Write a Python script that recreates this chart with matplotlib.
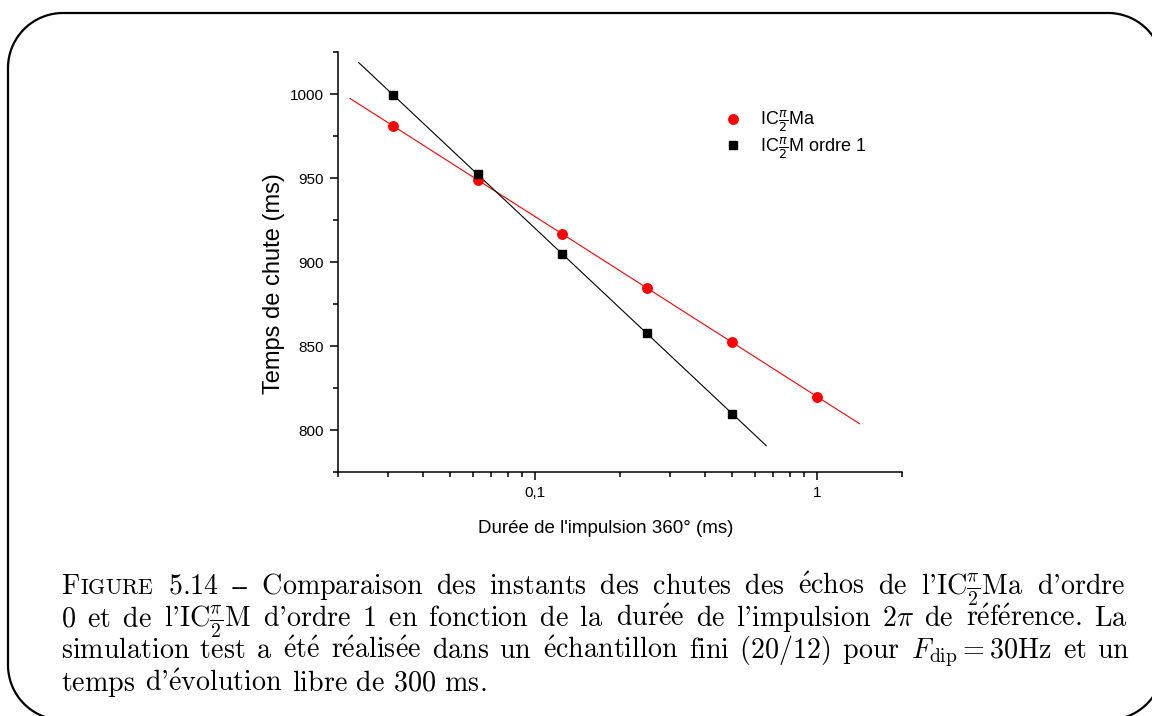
import matplotlib
matplotlib.use("Agg")
import matplotlib.pyplot as plt
import matplotlib.ticker as mticker
import matplotlib.transforms as mtransforms
from matplotlib.patches import Polygon
import numpy as np

# === DONNEES ===
duree_ma = np.array([0.03125, 0.0625, 0.125, 0.25, 0.5, 1.0])
chute_ma = np.array([981.0, 949.0, 916.5, 884.5, 852.5, 819.5])
duree_m1 = np.array([0.03125, 0.0625, 0.125, 0.25, 0.5])
chute_m1 = np.array([999.5, 952.5, 904.5, 857.5, 809.5])

label_ma = r"IC$\frac{\pi}{2}$Ma"
label_m1 = r"IC$\frac{\pi}{2}$M ordre 1"
xlabel = "Durée de l'impulsion 360° (ms)"
ylabel = "Temps de chute (ms)"

caption_lines = [
    ["5.14", "–", "Comparaison", "des", "instants", "des", "chutes", "des",
     "échos", "de", r"l'IC$\frac{\pi}{2}$Ma", "d'ordre"],
    ["0", "et", "de", r"l'IC$\frac{\pi}{2}$M", "d'ordre", "1", "en", "fonction", "de", "la",
     "durée", "de", "l'impulsion", r"$2\pi$", "de", "référence.", "La"],
    ["simulation", "test", "a", "été", "réalisée", "dans", "un", "échantillon", "fini",
     r"$(20/12)$", "pour", r"$F_{\mathrm{dip}}=30$Hz", "et", "un"],
    ["temps", "d'évolution", "libre", "de", "300", "ms."],
]

# === STYLE ===
plt.rcParams["font.family"] = ["Liberation Sans", "DejaVu Sans"]
W, H = 1152, 716


def fit_line(x, y):
    # droite de regression en log(x), prolongee de 10 % de chaque cote
    lx = np.log10(x)
    a, b = np.polyfit(lx, y, 1)
    span = lx.max() - lx.min()
    xs = np.linspace(lx.min() - 0.1 * span, lx.max() + 0.1 * span, 2)
    return 10 ** xs, a * xs + b


fig = plt.figure(figsize=(W / 100, H / 100), dpi=100)
ax = fig.add_axes([338 / W, 1 - 472 / H, 564 / W, 420 / H])

fx, fy = fit_line(duree_ma, chute_ma)
ax.plot(fx, fy, color="red", lw=0.8)
fx, fy = fit_line(duree_m1, chute_m1)
ax.plot(fx, fy, color="black", lw=0.8)

ax.plot(duree_ma, chute_ma, "o", color="red", ms=6.8, label=label_ma)
ax.plot(duree_m1, chute_m1, "s", color="black", ms=5.6, label=label_m1)

ax.set_xscale("log")
ax.set_xlim(0.02, 2)
ax.set_ylim(775, 1025)
ax.spines[["top", "right"]].set_visible(False)
for s in ["left", "bottom"]:
    ax.spines[s].set_linewidth(1.1)

ax.yaxis.set_major_locator(mticker.MultipleLocator(50))
ax.yaxis.set_minor_locator(mticker.MultipleLocator(25))
ax.xaxis.set_major_formatter(mticker.FuncFormatter(lambda v, p: f"{v:g}".replace(".", ",")))
ax.xaxis.set_minor_formatter(mticker.NullFormatter())
ax.tick_params(which="major", direction="out", length=6, width=1.1, labelsize=11, pad=4)
ax.tick_params(which="minor", direction="out", length=3.5, width=1.1)

ax.set_xlabel(xlabel, fontsize=13.5)
ax.xaxis.set_label_coords(0.475, -0.115)
ax.set_ylabel(ylabel, fontsize=17)
ax.yaxis.set_label_coords(-0.094, 0.448)

leg = ax.legend(loc="upper left", bbox_to_anchor=(0.681, 0.865), frameon=False,
                fontsize=13, handlelength=1.2, handletextpad=0.9, labelspacing=0.02,
                borderpad=0, borderaxespad=0)

# === CADRE ARRONDI (en pixels) ===
ident = mtransforms.IdentityTransform()


def rounded_rect(x0, y0, x1, y1, r, n=40):
    pts = []
    corners = [(x1 - r, y1 - r, 0), (x0 + r, y1 - r, 90), (x0 + r, y0 + r, 180), (x1 - r, y0 + r, 270)]
    for cx, cy, a0 in corners:
        t = np.radians(np.linspace(a0, a0 + 90, n))
        pts.append(np.column_stack([cx + r * np.cos(t), cy + r * np.sin(t)]))
    return np.vstack(pts)


frame = Polygon(rounded_rect(8, -4, 1163, 703, 55), closed=True, fill=False,
                lw=1.6, ec="black", transform=ident, clip_on=False)
fig.add_artist(frame)

# === LEGENDE DE LA FIGURE (texte justifie) ===
cap_size = 20.2
left, right = 61, 1121
base0, step = 594, 32.2
renderer = fig.canvas.get_renderer()
cap_kw = dict(family=["cmr10", "DejaVu Serif"], math_fontfamily="cm",
              transform=ident, ha="left", va="baseline")


def prep(tok):
    if "$" in tok:
        return tok
    tok = tok.replace("é", r"$\mathrm{\acute{e}}$")
    return tok.replace("–", r"-$\hspace{-0.1}$-")


def join(tokens, units):
    return (r"$\hspace{%.4f}$" % units).join(prep(t) for t in tokens) + r"$\hspace{0}$"


def width(s, size=cap_size):
    t = fig.text(0, 0, s, fontsize=size, **cap_kw)
    w = t.get_window_extent(renderer).width
    t.remove()
    return w


def groups(tokens):
    # les mots avec fraction, indice ou accent forment leur propre bloc de texte
    out, cur = [], []
    for t in tokens:
        if r"\frac" in t or "_{" in t or "é" in t:
            if cur:
                out.append(cur)
                cur = []
            out.append([t])
        else:
            cur.append(t)
    if cur:
        out.append(cur)
    return out


unit_px = (width(r"a$\hspace{10}$a") - width(r"a$\hspace{0}$a")) / 10
space_px = cap_size * 100 / 72 * 0.333

# "FIGURE" en petites capitales
y = H - base0
tF = fig.text(left, y, r"F$\hspace{0}$", fontsize=cap_size, **cap_kw)
wF = tF.get_window_extent(renderer).width
tI = fig.text(left + wF, y, r"IGURE$\hspace{0}$", fontsize=cap_size * 0.78, **cap_kw)
wI = tI.get_window_extent(renderer).width

for i, toks in enumerate(caption_lines):
    y = H - (base0 + i * step)
    natural = width(join(toks, 0))
    if i == 0:
        x = left + wF + wI
        gap_px = (right - x - natural) / len(toks)
        x += gap_px
    elif i < len(caption_lines) - 1:
        x = left
        gap_px = (right - left - natural) / (len(toks) - 1)
    else:
        x = left
        gap_px = space_px
    units = gap_px / unit_px
    for g in groups(toks):
        s = join(g, units)
        t = fig.text(x, y, s, fontsize=cap_size, **cap_kw)
        x += t.get_window_extent(renderer).width + gap_px

fig.savefig("out.png", dpi=100)
